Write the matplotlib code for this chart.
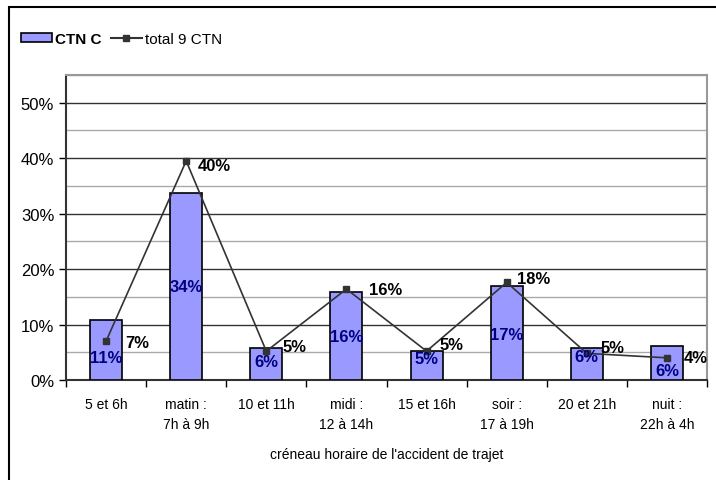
import matplotlib.pyplot as plt
import numpy as np
from matplotlib.lines import Line2D
from matplotlib.patches import Patch, Rectangle
from matplotlib.ticker import MultipleLocator, PercentFormatter

plt.rcParams['font.family'] = ['Liberation Sans', 'DejaVu Sans']

# créneaux horaires
creneaux = ["5 et 6h", "matin :\n7h à 9h", "10 et 11h", "midi :\n12 à 14h",
            "15 et 16h", "soir :\n17 à 19h", "20 et 21h", "nuit :\n22h à 4h"]
# parts (en %)
ctn_c = [10.9, 33.7, 5.8, 15.8, 5.2, 16.9, 5.7, 6.2]
total_9_ctn = [7.0, 39.5, 5.2, 16.4, 5.2, 17.6, 4.8, 4.0]

# décalages des étiquettes (pixels)
decal_barres = [-8, 0, 2, 0, 7, -1, 8, -8]
decal_courbe = [(19, -1), (12, -5), (16, 5), (23, 0), (13, 7), (10, 4), (14, 6), (17, 0)]

fig = plt.figure(figsize=(7.16, 4.81), dpi=100)
ax = fig.add_axes([66 / 716, 1 - 381 / 481, (707 - 66) / 716, (381 - 76) / 481])

# cadre du graphique
fig.patches.append(Rectangle((9 / 716, -0.1), 1.2, 1 - 8 / 481 + 0.1,
                             transform=fig.transFigure, fill=False,
                             edgecolor='black', linewidth=1.5))

x = np.arange(len(creneaux))
ax.bar(x, ctn_c, width=0.4, color='#9999ff', edgecolor='black', linewidth=1.2, zorder=3)
ax.plot(x, total_9_ctn, color='#333333', linewidth=1.2, marker='s', markersize=5,
        markerfacecolor='#333333', zorder=4)

px = 72 / 100  # pixels -> points
# étiquettes des barres
for xi, v, d in zip(x, ctn_c, decal_barres):
    ax.annotate(f"{v:.0f}%", (xi, v / 2), xytext=(0, d * px), textcoords='offset points',
                ha='center', va='center', fontsize=12, fontweight='bold',
                color='#000080', zorder=5)
# étiquettes de la courbe
for xi, v, (dx, dy) in zip(x, total_9_ctn, decal_courbe):
    ax.annotate(f"{v:.0f}%", (xi, v), xytext=(dx * px, dy * px), textcoords='offset points',
                ha='left', va='center', fontsize=12, fontweight='bold', color='black', zorder=5)

ax.set_xlim(-0.5, len(creneaux) - 0.5)
ax.set_ylim(0, 55)
ax.yaxis.set_major_locator(MultipleLocator(10))
ax.yaxis.set_minor_locator(MultipleLocator(5))
ax.yaxis.set_major_formatter(PercentFormatter(decimals=0))
ax.grid(axis='y', which='major', color='#333333', linewidth=1.0, zorder=0)
ax.grid(axis='y', which='minor', color='#aaaaaa', linewidth=1.0, zorder=0)
ax.tick_params(axis='y', which='major', labelsize=12, length=5, width=1, direction='out')
ax.tick_params(axis='y', which='minor', length=0)

ax.set_xticks(x)
ax.set_xticklabels(creneaux, fontsize=10, linespacing=1.55, va='top')
ax.tick_params(axis='x', which='major', length=0, pad=12.5)
ax.set_xticks(np.arange(len(creneaux) + 1) - 0.5, minor=True)
ax.tick_params(axis='x', which='minor', length=5, width=1, direction='out')
ax.set_xlabel("créneau horaire de l'accident de trajet", fontsize=10, labelpad=11)

for s in ['left', 'bottom']:
    ax.spines[s].set_color('#333333')
    ax.spines[s].set_linewidth(1.5)
for s in ['top', 'right']:
    ax.spines[s].set_color('#999999')
    ax.spines[s].set_linewidth(1.5)

handles = [Patch(facecolor='#9999ff', edgecolor='black', linewidth=1.2),
           Line2D([], [], color='#333333', marker='s', markersize=4)]
leg = fig.legend(handles, ["CTN C", "total 9 CTN"], loc='center left',
                 bbox_to_anchor=(21 / 716, 1 - 40 / 481), ncol=2, frameon=False,
                 fontsize=11, handlelength=2.0, handleheight=0.6, handletextpad=0.25,
                 columnspacing=0.6, borderpad=0, borderaxespad=0)
leg.get_texts()[0].set_fontweight('bold')

fig.savefig("out.png", dpi=100)
